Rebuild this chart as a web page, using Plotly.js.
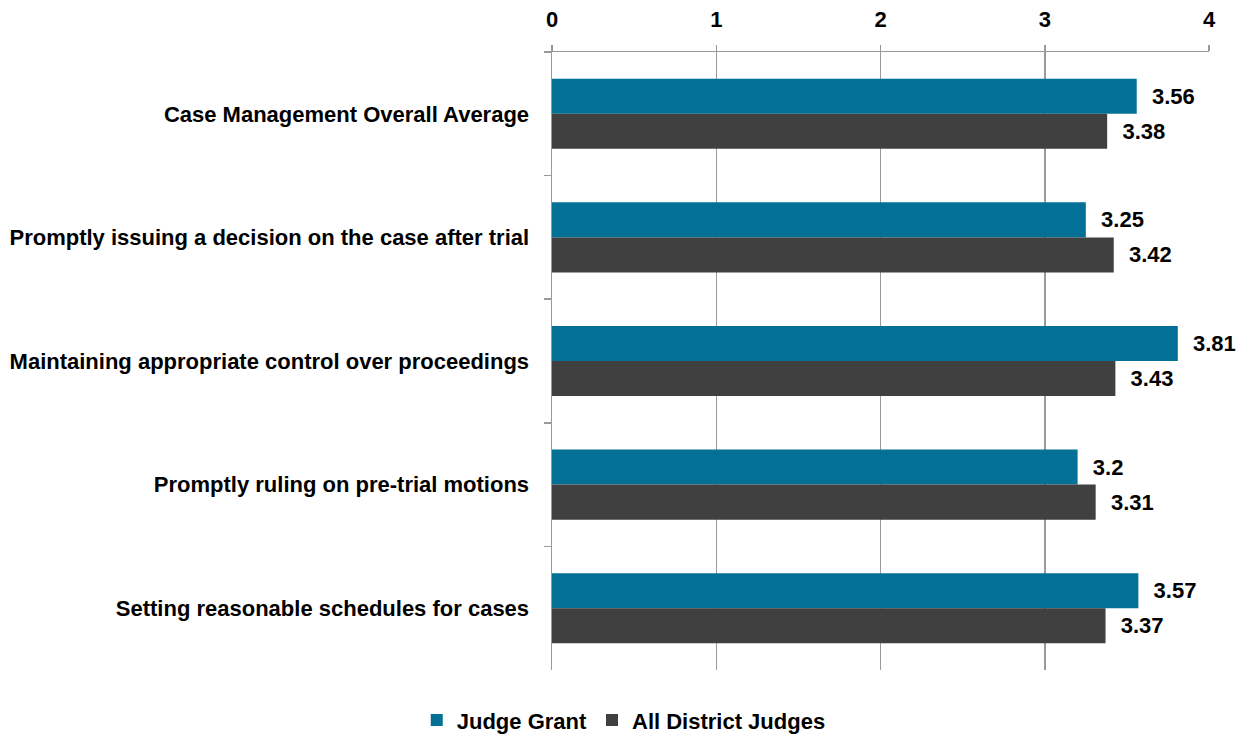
<!DOCTYPE html>
<html>
<head>
<meta charset="utf-8">
<script src="https://cdn.plot.ly/plotly-3.0.1.min.js"></script>
<style>html,body{margin:0;padding:0;background:#fff;}#chart{width:1245px;height:738px;}</style>
</head>
<body>
<div id="chart"></div>
<script>
const categories = [
  "Case Management Overall Average",
  "Promptly issuing a decision on the case after trial",
  "Maintaining appropriate control over proceedings",
  "Promptly ruling on pre-trial motions",
  "Setting reasonable schedules for cases"
];
const judgeGrant = [3.56, 3.25, 3.81, 3.2, 3.57];
const allDistrictJudges = [3.38, 3.42, 3.43, 3.31, 3.37];
const xTicks = [0, 1, 2, 3, 4];

const FONT = "Liberation Sans, Arial, sans-serif";
const pad = "\u00a0\u00a0";

const traces = [
  {
    type: "bar", orientation: "h", name: "Judge Grant",
    y: categories, x: judgeGrant,
    marker: {color: "#037096"},
    text: judgeGrant.map(v => pad + v), textposition: "outside",
    textfont: {family: FONT, size: 22, color: "#000", weight: "bold"},
    cliponaxis: false, hoverinfo: "x"
  },
  {
    type: "bar", orientation: "h", name: "All District Judges",
    y: categories, x: allDistrictJudges,
    marker: {color: "#404040"},
    text: allDistrictJudges.map(v => pad + v), textposition: "outside",
    textfont: {family: FONT, size: 22, color: "#000", weight: "bold"},
    cliponaxis: false, hoverinfo: "x"
  }
];

const layout = {
  width: 1245, height: 738,
  margin: {l: 552, r: 36, t: 52, b: 68, autoexpand: false},
  paper_bgcolor: "#fff", plot_bgcolor: "#fff",
  barmode: "group", bargap: 0.433, bargroupgap: 0,
  font: {family: FONT, size: 22, color: "#000", weight: "bold"},
  xaxis: {
    side: "top", range: [0, 4], tickvals: xTicks, ticktext: xTicks.map(String),
    showgrid: true, gridcolor: "#9a9a9a", gridwidth: 1.5,
    showline: true, linecolor: "#9a9a9a", linewidth: 1.5,
    ticks: "outside", ticklen: 6, tickcolor: "#9a9a9a", tickwidth: 1.5,
    ticklabelstandoff: 9, automargin: false,
    zeroline: false, fixedrange: true,
    tickfont: {family: FONT, size: 22, color: "#000", weight: "bold"}
  },
  yaxis: {
    type: "category", autorange: "reversed",
    tickson: "boundaries",
    showgrid: false, showline: true, linecolor: "#9a9a9a", linewidth: 1.5,
    ticks: "outside", ticklen: 7, tickcolor: "#9a9a9a", tickwidth: 1.5,
    ticklabelstandoff: 17, automargin: false,
    fixedrange: true,
    tickfont: {family: FONT, size: 22, color: "#000", weight: "bold"}
  },
  showlegend: true,
  legend: {
    orientation: "h", xref: "container", yref: "container",
    x: 0.501, xanchor: "center", y: 0.024, yanchor: "middle",
    font: {family: FONT, size: 22, color: "#000", weight: "bold"},
    traceorder: "normal", itemclick: false, itemdoubleclick: false,
    itemwidth: 30, tracegroupgap: 0
  }
};

Plotly.newPlot("chart", traces, layout, {displayModeBar: false, staticPlot: true});
</script>
</body>
</html>
